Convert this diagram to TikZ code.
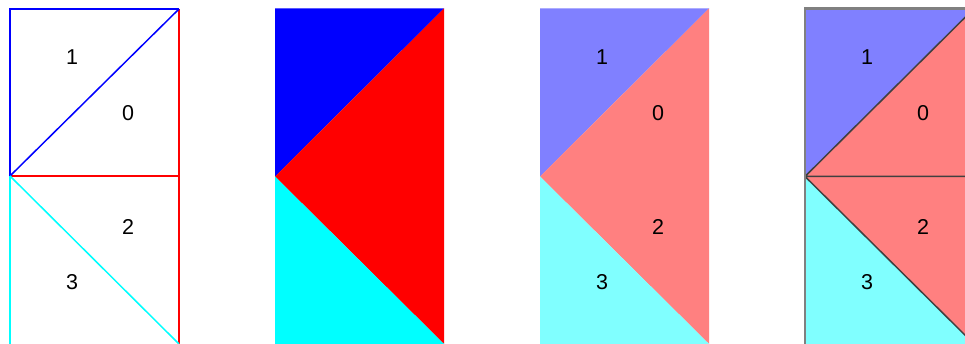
\documentclass[tikz,border=0pt]{standalone}
\usepackage{fontspec}
\setmainfont{Liberation Sans}
\usetikzlibrary{positioning}
\definecolor{aqua}{RGB}{0,255,255}
\definecolor{pureblue}{RGB}{0,0,255}
\definecolor{purered}{RGB}{255,0,0}

\begin{document}
\begin{tikzpicture}[
    x=1pt, y=1pt,
    num/.style={font=\fontsize{21.5}{21.5}\selectfont, inner sep=0pt},
    rim/.style={line width=2.2pt},
    seam/.style={line width=1.5pt}
]
\clip (0,0) rectangle (965,344);

% outlines only
\draw[rim, purered] (179,335) -- (179,-2) (10,168) -- (179,168);
\draw[rim, pureblue] (10,168) -- (10,335) -- (179,335);
\draw[seam, pureblue] (10,168) -- (179,335);
\draw[rim, aqua] (10,168) -- (10,-2);
\draw[seam, aqua] (10,168) -- (179,0);

% filled versions
\foreach \x/\s in {275/100, 540/50, 805/50}{
  \fill[pureblue!\s] (\x,167.5) -- (\x,335.5) -- (\x+169,335.5) -- cycle;
  \fill[purered!\s] (\x,167.5) -- (\x+169,335.5) -- (\x+169,0) -- cycle;
  \fill[aqua!\s] (\x,167.5) -- (\x,0) -- (\x+169,0) -- cycle;
}

% edges on the last one
\draw[seam, black!75] (805,167.5) -- (974,335.5) (805,167.5) -- (974,167.5) (805,167.5) -- (974,0);
\draw[rim, black!50] (805,-2) -- (805,335.5) -- (974,335.5);

% triangle numbers
\foreach \x/\p in {10/a, 540/c, 805/d}{
  \node[num] (\p1) at (\x+62,287) {1};
  \node[num] (\p0) at (\x+118,231) {0};
  \node[num] (\p2) at (\x+118,117) {2};
  \node[num] (\p3) at (\x+62,62) {3};
}
\end{tikzpicture}
\end{document}
